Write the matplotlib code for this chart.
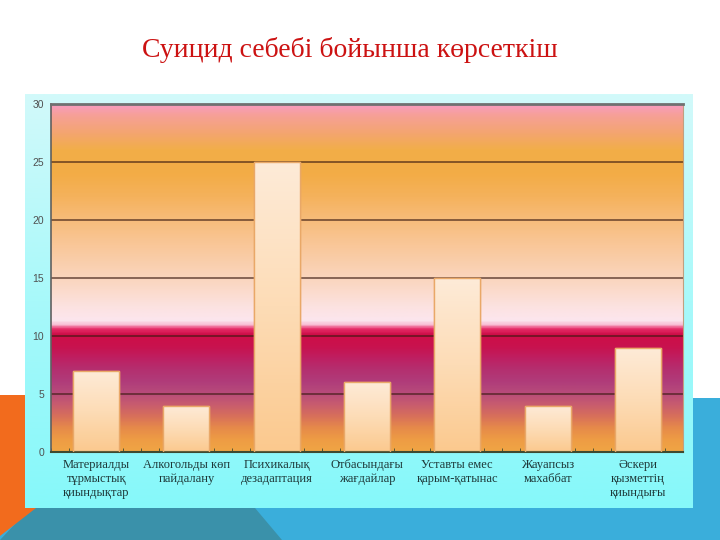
import numpy as np
import matplotlib
matplotlib.use("Agg")
import matplotlib.pyplot as plt
from matplotlib.colors import LinearSegmentedColormap
from matplotlib.patches import Polygon

# ---- data ----
categories = ["Материалды\nтұрмыстық\nқиындықтар",
              "Алкогольды көп\nпайдалану",
              "Психикалық\nдезадаптация",
              "Отбасындағы\nжағдайлар",
              "Уставты емес\nқарым-қатынас",
              "Жауапсыз\nмахаббат",
              "Әскери\nқызметтің\nқиындығы"]
values = [7, 4, 25, 6, 15, 4, 9]
yticks = [0, 5, 10, 15, 20, 25, 30]
title = "Суицид себебі бойынша көрсеткіш"

W, H = 720, 540
fig = plt.figure(figsize=(W / 100, H / 100), dpi=100)
fig.patch.set_facecolor("white")

# ---- slide background decorations ----
bg = fig.add_axes([0, 0, 1, 1], zorder=-2)
bg.set_xlim(0, W)
bg.set_ylim(H, 0)
bg.axis("off")
bg.add_patch(Polygon([(0, 508), (720, 508), (720, 540), (0, 540)],
                     closed=True, fc="#3AAEDB", ec="none"))
bg.add_patch(Polygon([(680, 398), (720, 398), (720, 540), (680, 540)],
                     closed=True, fc="#3AAEDB", ec="none"))
bg.add_patch(Polygon([(30, 508), (255, 508), (282, 540), (0, 540)],
                     closed=True, fc="#3A91AA", ec="none"))
bg.add_patch(Polygon([(0, 395), (45, 395), (45, 508), (36, 508), (0, 536)],
                     closed=True, fc="#F26B1D", ec="none"))
# chart panel (light cyan gradient)
panel_cmap = LinearSegmentedColormap.from_list("panel", ["#D2FAFA", "#A8F9FA", "#86F8FA"])
grad = np.linspace(0, 1, 256).reshape(-1, 1)
bg.imshow(grad, cmap=panel_cmap, extent=[25, 693, 508, 94], aspect="auto",
          interpolation="bilinear", zorder=2)

# ---- main axes ----
x0, x1, ytop, ybot = 51, 683, 104, 452
ax = fig.add_axes([x0 / W, 1 - ybot / H, (x1 - x0) / W, (ybot - ytop) / H], zorder=1)
ax.set_facecolor("none")
n = len(categories)
ax.set_xlim(-0.5, n - 0.5)
ax.set_ylim(0, 30)

# plot-area gradient (value-based stops)
stops = [(0.0, "#F0A545"), (1.0, "#EE9C44"), (2.0, "#E68A4A"), (3.0, "#D8705A"),
         (4.0, "#C85C6E"), (5.0, "#B84C7A"), (6.0, "#B03C7A"), (7.0, "#B43070"),
         (8.0, "#BE2062"), (9.0, "#C8124E"), (10.1, "#CE0E48"), (10.6, "#E8306C"),
         (10.9, "#F8B8D0"), (11.3, "#FCE6EE"), (12.5, "#FCE2E0"), (14.0, "#FBDACA"),
         (16.0, "#FAD0B0"), (18.0, "#F9C696"), (20.0, "#F7BC7A"), (22.0, "#F5B25C"),
         (24.0, "#F3AC46"), (26.0, "#F2AE48"), (27.5, "#F4A570"), (29.0, "#F6A096"),
         (30.0, "#F89CC2")]
area_cmap = LinearSegmentedColormap.from_list("area", [(v / 30, c) for v, c in stops])
g = np.linspace(0, 1, 600).reshape(-1, 1)
ax.imshow(g, cmap=area_cmap, extent=[-0.5, n - 0.5, 0, 30], origin="lower",
          aspect="auto", interpolation="bilinear", zorder=0)

ax.set_axisbelow(True)
ax.set_yticks(yticks)
ax.yaxis.grid(True, color="#3A1A10", alpha=0.6, linewidth=1.4)
ax.xaxis.grid(False)

# bars
bars = ax.bar(range(n), values, width=0.51, color="#FDDDB8",
              edgecolor="#E9A868", linewidth=1.0, zorder=2)
bar_cmap = LinearSegmentedColormap.from_list("bar", ["#FBC98E", "#FDDCB6", "#FEEBD8"])
for b in bars:
    bx, by = b.get_x(), b.get_y()
    bw, bh = b.get_width(), b.get_height()
    im = ax.imshow(g, cmap=bar_cmap, extent=[bx, bx + bw, by, by + bh], origin="lower",
                   aspect="auto", interpolation="bilinear", zorder=2.5)
    im.set_clip_path(b)
    ax.bar(bx + bw / 2, bh, width=bw, bottom=by, fill=False,
           edgecolor="#E9A868", linewidth=1.0, zorder=3)

# spines
ax.spines["top"].set_color("#707070")
ax.spines["top"].set_linewidth(2.0)
ax.spines["left"].set_color("#606060")
ax.spines["left"].set_linewidth(1.2)
ax.spines["bottom"].set_color("#3E4A30")
ax.spines["bottom"].set_linewidth(1.5)
ax.spines["right"].set_color("#C0A080")
ax.spines["right"].set_linewidth(0.8)

# ticks
ax.set_xticks(range(n))
ax.set_xticklabels(categories, fontfamily="Liberation Serif", fontsize=9,
                   color="#1E3838", linespacing=1.25)
ax.tick_params(axis="x", which="major", length=0, pad=5)
ax.set_xticks(np.arange(-0.5, n - 0.5 + 1e-6, 0.2), minor=True)
ax.tick_params(axis="x", which="minor", direction="in", length=3, color="#3E4A30")
ax.tick_params(axis="y", which="major", length=0, pad=5, labelsize=7.5, labelcolor="#505050")
for t in ax.get_yticklabels():
    t.set_fontfamily("Liberation Sans")

fig.text(350 / W, 1 - 50 / H, title, ha="center", va="center",
         fontfamily="Liberation Serif", fontsize=20, color="#CC1212")

fig.savefig("out.png", dpi=100, facecolor="white")
